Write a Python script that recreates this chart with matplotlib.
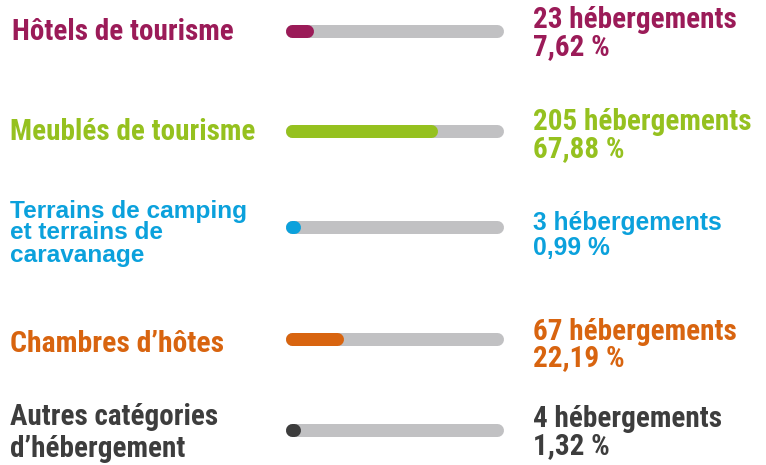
import matplotlib
matplotlib.use("Agg")
import matplotlib.pyplot as plt
from matplotlib import font_manager as fm

categories = ["Hôtels de tourisme", "Meublés de tourisme",
              "Terrains de camping\net terrains de\ncaravanage",
              "Chambres d’hôtes", "Autres catégories\nd’hébergement"]
counts = [23, 205, 3, 67, 4]
percents = [7.62, 67.88, 0.99, 22.19, 1.32]
pct_labels = ["7,62 %", "67,88 %", "0,99 %", "22,19 %", "1,32 %"]
colors = ["#9b1b58", "#95c11f", "#0ba1dc", "#d8640f", "#3d3d3d"]


def find_narrow_bold():
    prefs = ["liberation sans narrow", "roboto condensed", "open sans condensed",
             "noto sans", "dejavu sans", "roboto", "open sans"]
    cands = []
    for f in fm.fontManager.ttflist:
        fname = f.fname.lower()
        nm = f.name.lower()
        cond = ("narrow" in fname or "condensed" in fname or "narrow" in nm
                or "condensed" in nm
                or f.stretch in ("condensed", "semi-condensed"))
        if "extracondensed" in fname.replace("-", "").replace("_", "") or "ultra" in fname:
            continue
        if "semicondensed" in fname.replace("-", ""):
            continue
        bold = (f.weight in (700, "bold") or "bold" in fname) and "semibold" not in fname \
            and "extrabold" not in fname and "italic" not in fname and "oblique" not in fname
        if cond and bold:
            rank = len(prefs)
            for k, p in enumerate(prefs):
                if nm.startswith(p):
                    rank = k
                    break
            cands.append((rank, f.fname))
    cands.sort()
    if cands:
        return fm.FontProperties(fname=cands[0][1])
    return fm.FontProperties(family="Liberation Sans", weight="bold")


NARROW = find_narrow_bold()
WIDE = fm.FontProperties(family="Liberation Sans", weight="bold")

W, H = 766, 465
fig = plt.figure(figsize=(W / 100, H / 100), dpi=100)
fig.patch.set_facecolor("white")

tax = fig.add_axes([0, 0, 1, 1])
tax.set_xlim(0, W)
tax.set_ylim(H, 0)
tax.axis("off")

x0, x1 = 291.5, 496.5
bax = fig.add_axes([x0 / W, 0, (x1 - x0) / W, 1])
bax.set_xlim(0, 100)
bax.set_ylim(H, 0)
bax.axis("off")

bar_y = [31, 131, 227, 339, 430]
lw = 13 * 72 / 100
for i, p in enumerate(percents):
    bax.plot([0, 100], [bar_y[i]] * 2, color="#c1c1c3", lw=lw,
             solid_capstyle="round", clip_on=False)
    bax.plot([0, p], [bar_y[i]] * 2, color=colors[i], lw=lw,
             solid_capstyle="round", clip_on=False)

label_specs = [
    (12, [40], NARROW, 21),
    (10, [140], NARROW, 21),
    (10, [218, 239, 262], WIDE, 17.6),
    (10, [352], NARROW, 21.3),
    (10, [425, 457], NARROW, 21),
]
for i, (x, ys, fp, fs) in enumerate(label_specs):
    for line, y in zip(categories[i].split("\n"), ys):
        t = tax.text(x, y, line, color=colors[i], fontproperties=fp,
                     va="baseline", ha="left")
        t.set_fontsize(fs)

val_base = [(28, 55), (130, 157), (230, 255), (340, 366), (427, 454)]
for i in range(5):
    fp = WIDE if i == 2 else NARROW
    fs = 17.7 if i == 2 else 21
    y1, y2 = val_base[i]
    for s, y in ((f"{counts[i]} hébergements", y1), (pct_labels[i], y2)):
        t = tax.text(533, y, s, color=colors[i], fontproperties=fp, va="baseline")
        t.set_fontsize(fs)

fig.savefig("out.png", dpi=100, facecolor="white")
